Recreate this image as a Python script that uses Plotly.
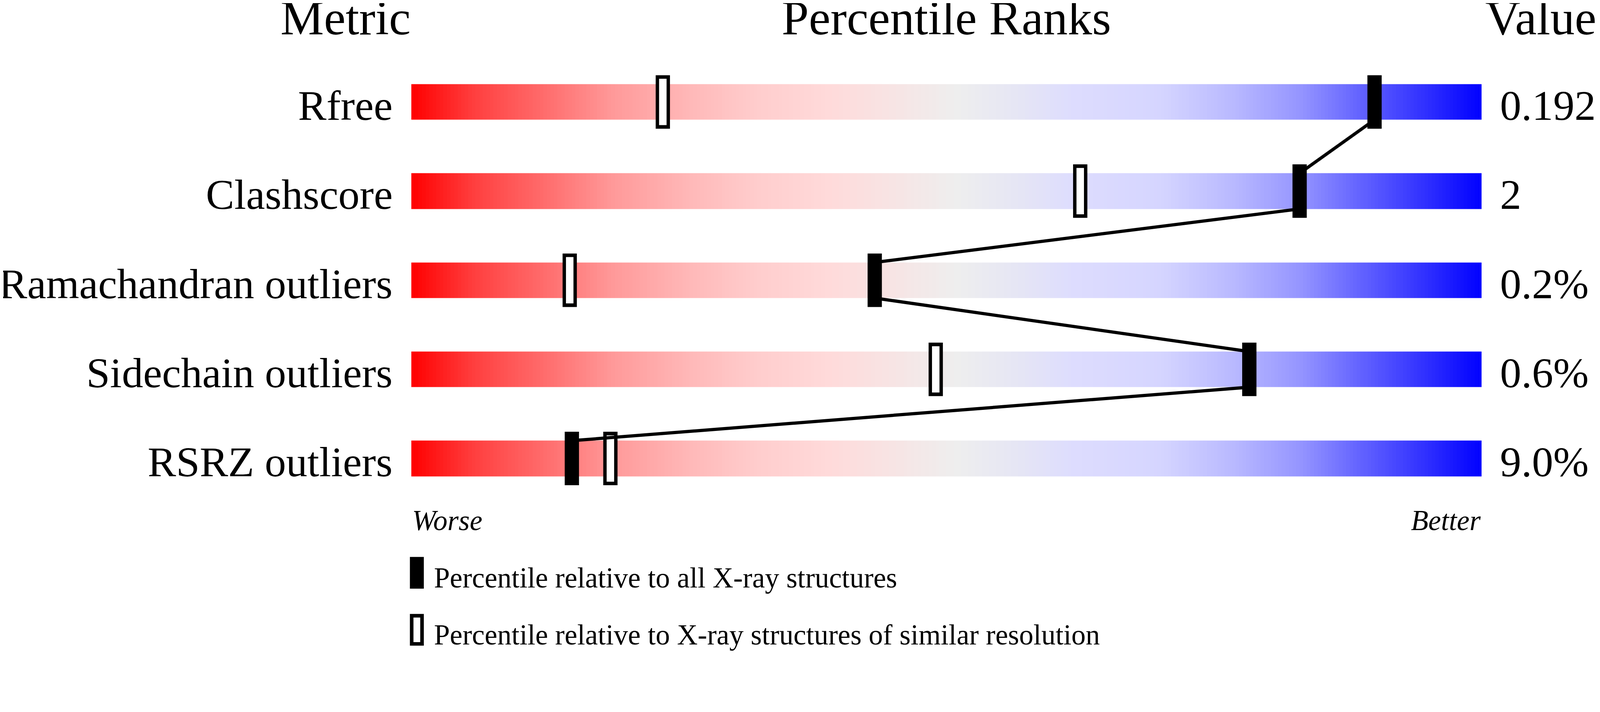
"""Percentile ranks slider chart (validation summary) rebuilt with Plotly."""

import plotly.graph_objects as go

# data
metrics = ["Rfree", "Clashscore", "Ramachandran outliers", "Sidechain outliers", "RSRZ outliers"]
values = ["0.192", "2", "0.2%", "0.6%", "9.0%"]
pct_all = [90.0, 83.0, 43.3, 78.3, 15.0]          # relative to all X-ray structures
pct_similar = [23.5, 62.5, 14.8, 49.0, 18.6]      # relative to similar resolution

# reference picture size, used for placing things in paper fractions
W, H = 4485, 1824
# screen px -> css px (the page is drawn ~1.095x larger than css pixels)
S = 1.095
K = 1 / S
MARGIN = 8 * S  # default body margin of the page, in screen px
FONT = "Liberation Serif, Times New Roman, serif"


def fx(px):
    """screen x of the reference -> paper fraction"""
    return (px - MARGIN) / (W - 2 * MARGIN)


def fy(px):
    """screen y of the reference (from top) -> paper fraction"""
    return 1 - (px - MARGIN) / H


# red -> pink -> grey -> lavender -> blue ramp of the slider
slider_scale = [
    [0.00, "#ff0000"],
    [0.06, "#ff4040"],
    [0.13, "#ff7070"],
    [0.19, "#ff9a9a"],
    [0.26, "#ffb8b8"],
    [0.32, "#ffcccc"],
    [0.39, "#ffdada"],
    [0.45, "#f7e4e4"],
    [0.51, "#eeeeee"],
    [0.57, "#e5e5f5"],
    [0.62, "#dddcfe"],
    [0.70, "#d5d5ff"],
    [0.77, "#b8b8ff"],
    [0.83, "#9595ff"],
    [0.89, "#6060ff"],
    [0.96, "#2525ff"],
    [1.00, "#0000ff"],
]

n = len(metrics)
half = 0.2  # half bar thickness in row units

# heatmap with nan rows between the bars so only the slider strips are painted
n_cols = 300
x_edges = [100 * k / n_cols for k in range(n_cols + 1)]
x_mid = [(a + b) / 2 for a, b in zip(x_edges[:-1], x_edges[1:])]
y_edges, z = [], []
for i in range(n):
    y_edges += [i - half, i + half]
    z.append(x_mid)
    if i < n - 1:
        z.append([None] * n_cols)

fig = go.Figure()

fig.add_trace(
    go.Heatmap(
        x=x_edges,
        y=y_edges,
        z=z,
        colorscale=slider_scale,
        zmin=0,
        zmax=100,
        zsmooth=False,
        showscale=False,
        hoverinfo="skip",
    )
)

rows = list(range(n))

# line-ns symbols are 1.4 * size tall
tick_h = 150 * K / 1.4
tick_w = 40 * K

# open markers: black outline with white inside
fig.add_trace(
    go.Scatter(
        x=pct_similar, y=rows, mode="markers",
        marker=dict(symbol="line-ns", size=tick_h, color="black",
                    line=dict(width=tick_w, color="black")),
        hoverinfo="skip",
    )
)
fig.add_trace(
    go.Scatter(
        x=pct_similar, y=rows, mode="markers",
        marker=dict(symbol="line-ns", size=130 * K / 1.4, color="white",
                    line=dict(width=21 * K, color="white")),
        hoverinfo="skip",
    )
)

# zig-zag line joining the filled markers, bar bottom -> next bar top
line_x, line_y = [], []
for i in range(n):
    if i > 0:
        line_x.append(pct_all[i])
        line_y.append(i - half)
    if i < n - 1:
        line_x.append(pct_all[i])
        line_y.append(i + half)
fig.add_trace(
    go.Scatter(
        x=line_x, y=line_y, mode="lines",
        line=dict(color="black", width=9 * K),
        hoverinfo="skip",
    )
)

# filled markers
fig.add_trace(
    go.Scatter(
        x=pct_all, y=rows, mode="markers",
        marker=dict(symbol="line-ns", size=tick_h, color="black",
                    line=dict(width=tick_w, color="black")),
        hoverinfo="skip",
    )
)


def label(text, size, **kw):
    return dict(text=text, showarrow=False, font=dict(size=round(size * K)), **kw)


head_y = fy(50)
annotations = []
# headers
annotations.append(label("Metric", 137, xref="x", x=0, xanchor="right",
                         yref="paper", y=head_y, yanchor="middle"))
annotations.append(label("Percentile Ranks", 137, xref="x", x=50, xanchor="center",
                         yref="paper", y=head_y, yanchor="middle"))
annotations.append(label("Value", 137, xref="paper", x=fx(4161), xanchor="left",
                         yref="paper", y=head_y, yanchor="middle"))

# metric names and values beside each bar
for i, (name, val) in enumerate(zip(metrics, values)):
    annotations.append(label(name, 119, xref="x", x=0, xanchor="right", xshift=-50 * K,
                             yref="y", y=i, yanchor="middle", yshift=-10 * K))
    annotations.append(label(val, 119, xref="x", x=100, xanchor="left", xshift=50 * K,
                             yref="y", y=i, yanchor="middle", yshift=-10 * K))

# worse / better
annotations.append(label("<i>Worse</i>", 80, xref="x", x=0, xanchor="left",
                         yref="paper", y=fy(1460), yanchor="middle"))
annotations.append(label("<i>Better</i>", 80, xref="x", x=100, xanchor="right",
                         yref="paper", y=fy(1460), yanchor="middle"))

# legend text
annotations.append(label("Percentile relative to all X-ray structures", 80,
                         xref="paper", x=fx(1214), xanchor="left",
                         yref="paper", y=fy(1621), yanchor="middle"))
annotations.append(label("Percentile relative to X-ray structures of similar resolution", 80,
                         xref="paper", x=fx(1214), xanchor="left",
                         yref="paper", y=fy(1781), yanchor="middle"))

# legend glyphs
shapes = [
    dict(type="rect", xref="paper", yref="paper",
         x0=fx(1149), x1=fx(1188), y0=fy(1651), y1=fy(1562),
         fillcolor="black", line=dict(width=0)),
    dict(type="rect", xref="paper", yref="paper",
         x0=fx(1154), x1=fx(1183), y0=fy(1806), y1=fy(1727),
         fillcolor="white", line=dict(color="black", width=10 * K)),
]

fig.update_layout(
    height=round(H * K),
    margin=dict(l=0, r=0, t=0, b=0),
    paper_bgcolor="white",
    plot_bgcolor="white",
    showlegend=False,
    font=dict(family=FONT, color="black"),
    xaxis=dict(range=[0, 100], domain=[fx(1153), fx(4153)], visible=False,
               fixedrange=True),
    yaxis=dict(range=[4.5, -0.5], domain=[fy(1411), fy(161)], visible=False,
               fixedrange=True),
    annotations=annotations,
    shapes=shapes,
)

fig.write_html("out.html")
